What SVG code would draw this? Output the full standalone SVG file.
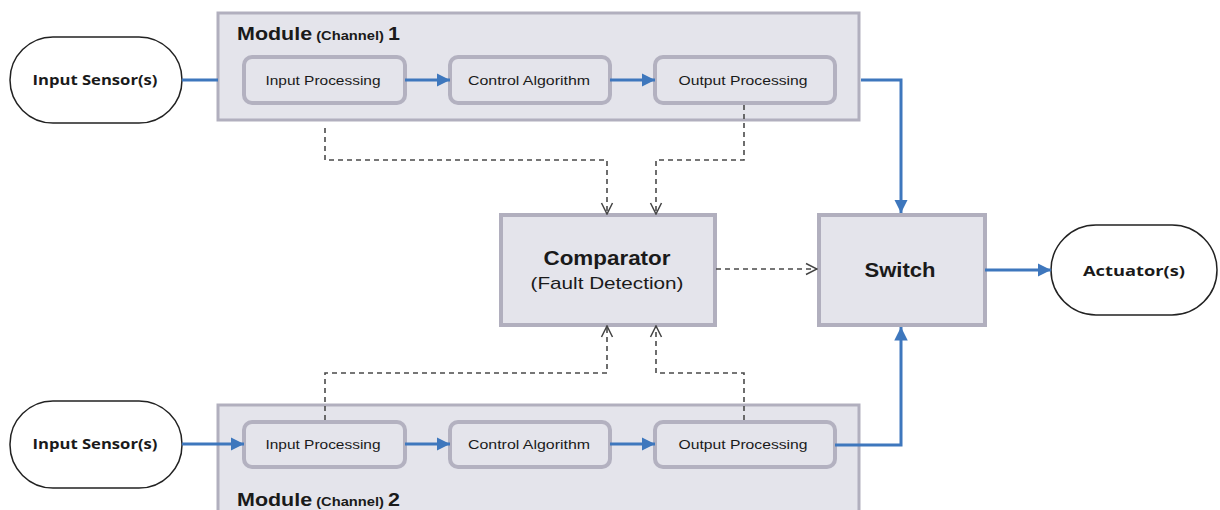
<svg xmlns="http://www.w3.org/2000/svg" width="1220" height="510" viewBox="0 0 1220 510">
<defs>
<style>
.module{fill:#e4e4eb;stroke:#b1afbe;stroke-width:3}
.inner{fill:#e4e4eb;stroke:#b3b1c0;stroke-width:4}
.big{fill:#e4e4eb;stroke:#b1afbe;stroke-width:4}
.term{fill:#ffffff;stroke:#222;stroke-width:1.5}
.blue{fill:none;stroke:#3e77bd;stroke-width:3}
.dash{fill:none;stroke:#4a4a4a;stroke-width:1.6;stroke-dasharray:5,4}
text{font-family:"Liberation Sans",Arial,sans-serif;fill:#1a1a1a}
.lbl{font-size:13px;text-anchor:middle}
.term-t{font-family:"Open Sans","Liberation Sans",sans-serif;font-weight:bold;font-size:15px;text-anchor:middle}
.mod{font-weight:bold}
</style>
<marker id="ab" viewBox="0 0 10 10" refX="10" refY="5" markerWidth="4.5" markerHeight="4.5" orient="auto" markerUnits="strokeWidth">
<path d="M0,0 L10,5 L0,10 z" fill="#3e77bd"/>
</marker>
<marker id="ao" viewBox="0 0 14 14" refX="13" refY="7" markerWidth="14" markerHeight="14" orient="auto" markerUnits="userSpaceOnUse">
<path d="M2,1.5 L13,7 L2,12.5" fill="none" stroke="#444" stroke-width="1.5"/>
</marker>
</defs>
<rect width="1220" height="510" fill="#ffffff"/>

<g id="module1">
<rect class="module" x="218" y="13" width="641" height="107"/>
<text class="mod" x="237" y="40" textLength="163" lengthAdjust="spacingAndGlyphs"><tspan font-size="19">Module</tspan><tspan font-size="13"> (Channel) </tspan><tspan font-size="19">1</tspan></text>
</g>
<g id="module2">
<rect class="module" x="218" y="405" width="641" height="110"/>
<text class="mod" x="237" y="506" textLength="163" lengthAdjust="spacingAndGlyphs"><tspan font-size="19">Module</tspan><tspan font-size="13"> (Channel) </tspan><tspan font-size="19">2</tspan></text>
</g>

<g id="sensor1">
<rect class="term" x="10" y="37" width="172" height="86" rx="43"/>
<text class="term-t" x="95" y="85" textLength="125" lengthAdjust="spacingAndGlyphs">Input Sensor(s)</text>
</g>
<g id="sensor2">
<rect class="term" x="10" y="401" width="172" height="87" rx="43"/>
<text class="term-t" x="95" y="449" textLength="125" lengthAdjust="spacingAndGlyphs">Input Sensor(s)</text>
</g>

<g id="in1"><rect class="inner" x="244" y="57" width="161" height="46" rx="8"/><text class="lbl" x="323" y="85" textLength="115" lengthAdjust="spacingAndGlyphs">Input Processing</text></g>
<g id="ctrl1"><rect class="inner" x="450" y="57" width="160" height="46" rx="8"/><text class="lbl" x="529" y="85" textLength="122" lengthAdjust="spacingAndGlyphs">Control Algorithm</text></g>
<g id="out1"><rect class="inner" x="655" y="57" width="180" height="46" rx="8"/><text class="lbl" x="743" y="85" textLength="129" lengthAdjust="spacingAndGlyphs">Output Processing</text></g>

<g id="in2"><rect class="inner" x="244" y="422" width="161" height="45" rx="8"/><text class="lbl" x="323" y="449" textLength="115" lengthAdjust="spacingAndGlyphs">Input Processing</text></g>
<g id="ctrl2"><rect class="inner" x="450" y="422" width="160" height="45" rx="8"/><text class="lbl" x="529" y="449" textLength="122" lengthAdjust="spacingAndGlyphs">Control Algorithm</text></g>
<g id="out2"><rect class="inner" x="655" y="422" width="180" height="45" rx="8"/><text class="lbl" x="743" y="449" textLength="129" lengthAdjust="spacingAndGlyphs">Output Processing</text></g>

<g id="comparator">
<rect class="big" x="501" y="215" width="214" height="110"/>
<text x="607" y="265" font-size="20" font-weight="bold" text-anchor="middle" textLength="127" lengthAdjust="spacingAndGlyphs">Comparator</text>
<text x="607" y="289" font-size="17" text-anchor="middle" fill="#333" textLength="153" lengthAdjust="spacingAndGlyphs">(Fault Detection)</text>
</g>
<g id="switch">
<rect class="big" x="819" y="215" width="166" height="110"/>
<text x="900" y="277" font-size="20" font-weight="bold" text-anchor="middle" textLength="71" lengthAdjust="spacingAndGlyphs">Switch</text>
</g>
<g id="actuator">
<rect class="term" x="1051" y="225" width="166" height="90" rx="45"/>
<text class="term-t" x="1134" y="276" textLength="102" lengthAdjust="spacingAndGlyphs">Actuator(s)</text>
</g>

<g id="connectors">
<line class="blue" x1="182" y1="80" x2="218" y2="80"/>
<line class="blue" x1="405" y1="80" x2="450" y2="80" marker-end="url(#ab)"/>
<line class="blue" x1="610" y1="80" x2="655" y2="80" marker-end="url(#ab)"/>
<polyline class="blue" points="861,80 901,80 901,213" marker-end="url(#ab)"/>
<line class="blue" x1="182" y1="444" x2="244" y2="444" marker-end="url(#ab)"/>
<line class="blue" x1="405" y1="444" x2="450" y2="444" marker-end="url(#ab)"/>
<line class="blue" x1="610" y1="444" x2="655" y2="444" marker-end="url(#ab)"/>
<polyline class="blue" points="835,445 901,445 901,327" marker-end="url(#ab)"/>
<line class="blue" x1="985" y1="270" x2="1051" y2="270" marker-end="url(#ab)"/>
<polyline class="dash" points="325,128 325,160 607,160 607,214" marker-end="url(#ao)"/>
<polyline class="dash" points="744,105 744,160 656,160 656,214" marker-end="url(#ao)"/>
<polyline class="dash" points="325,420 325,373 607,373 607,326" marker-end="url(#ao)"/>
<polyline class="dash" points="744,420 744,373 656,373 656,326" marker-end="url(#ao)"/>
<line class="dash" x1="716" y1="269" x2="817" y2="269" marker-end="url(#ao)"/>
</g>
</svg>
